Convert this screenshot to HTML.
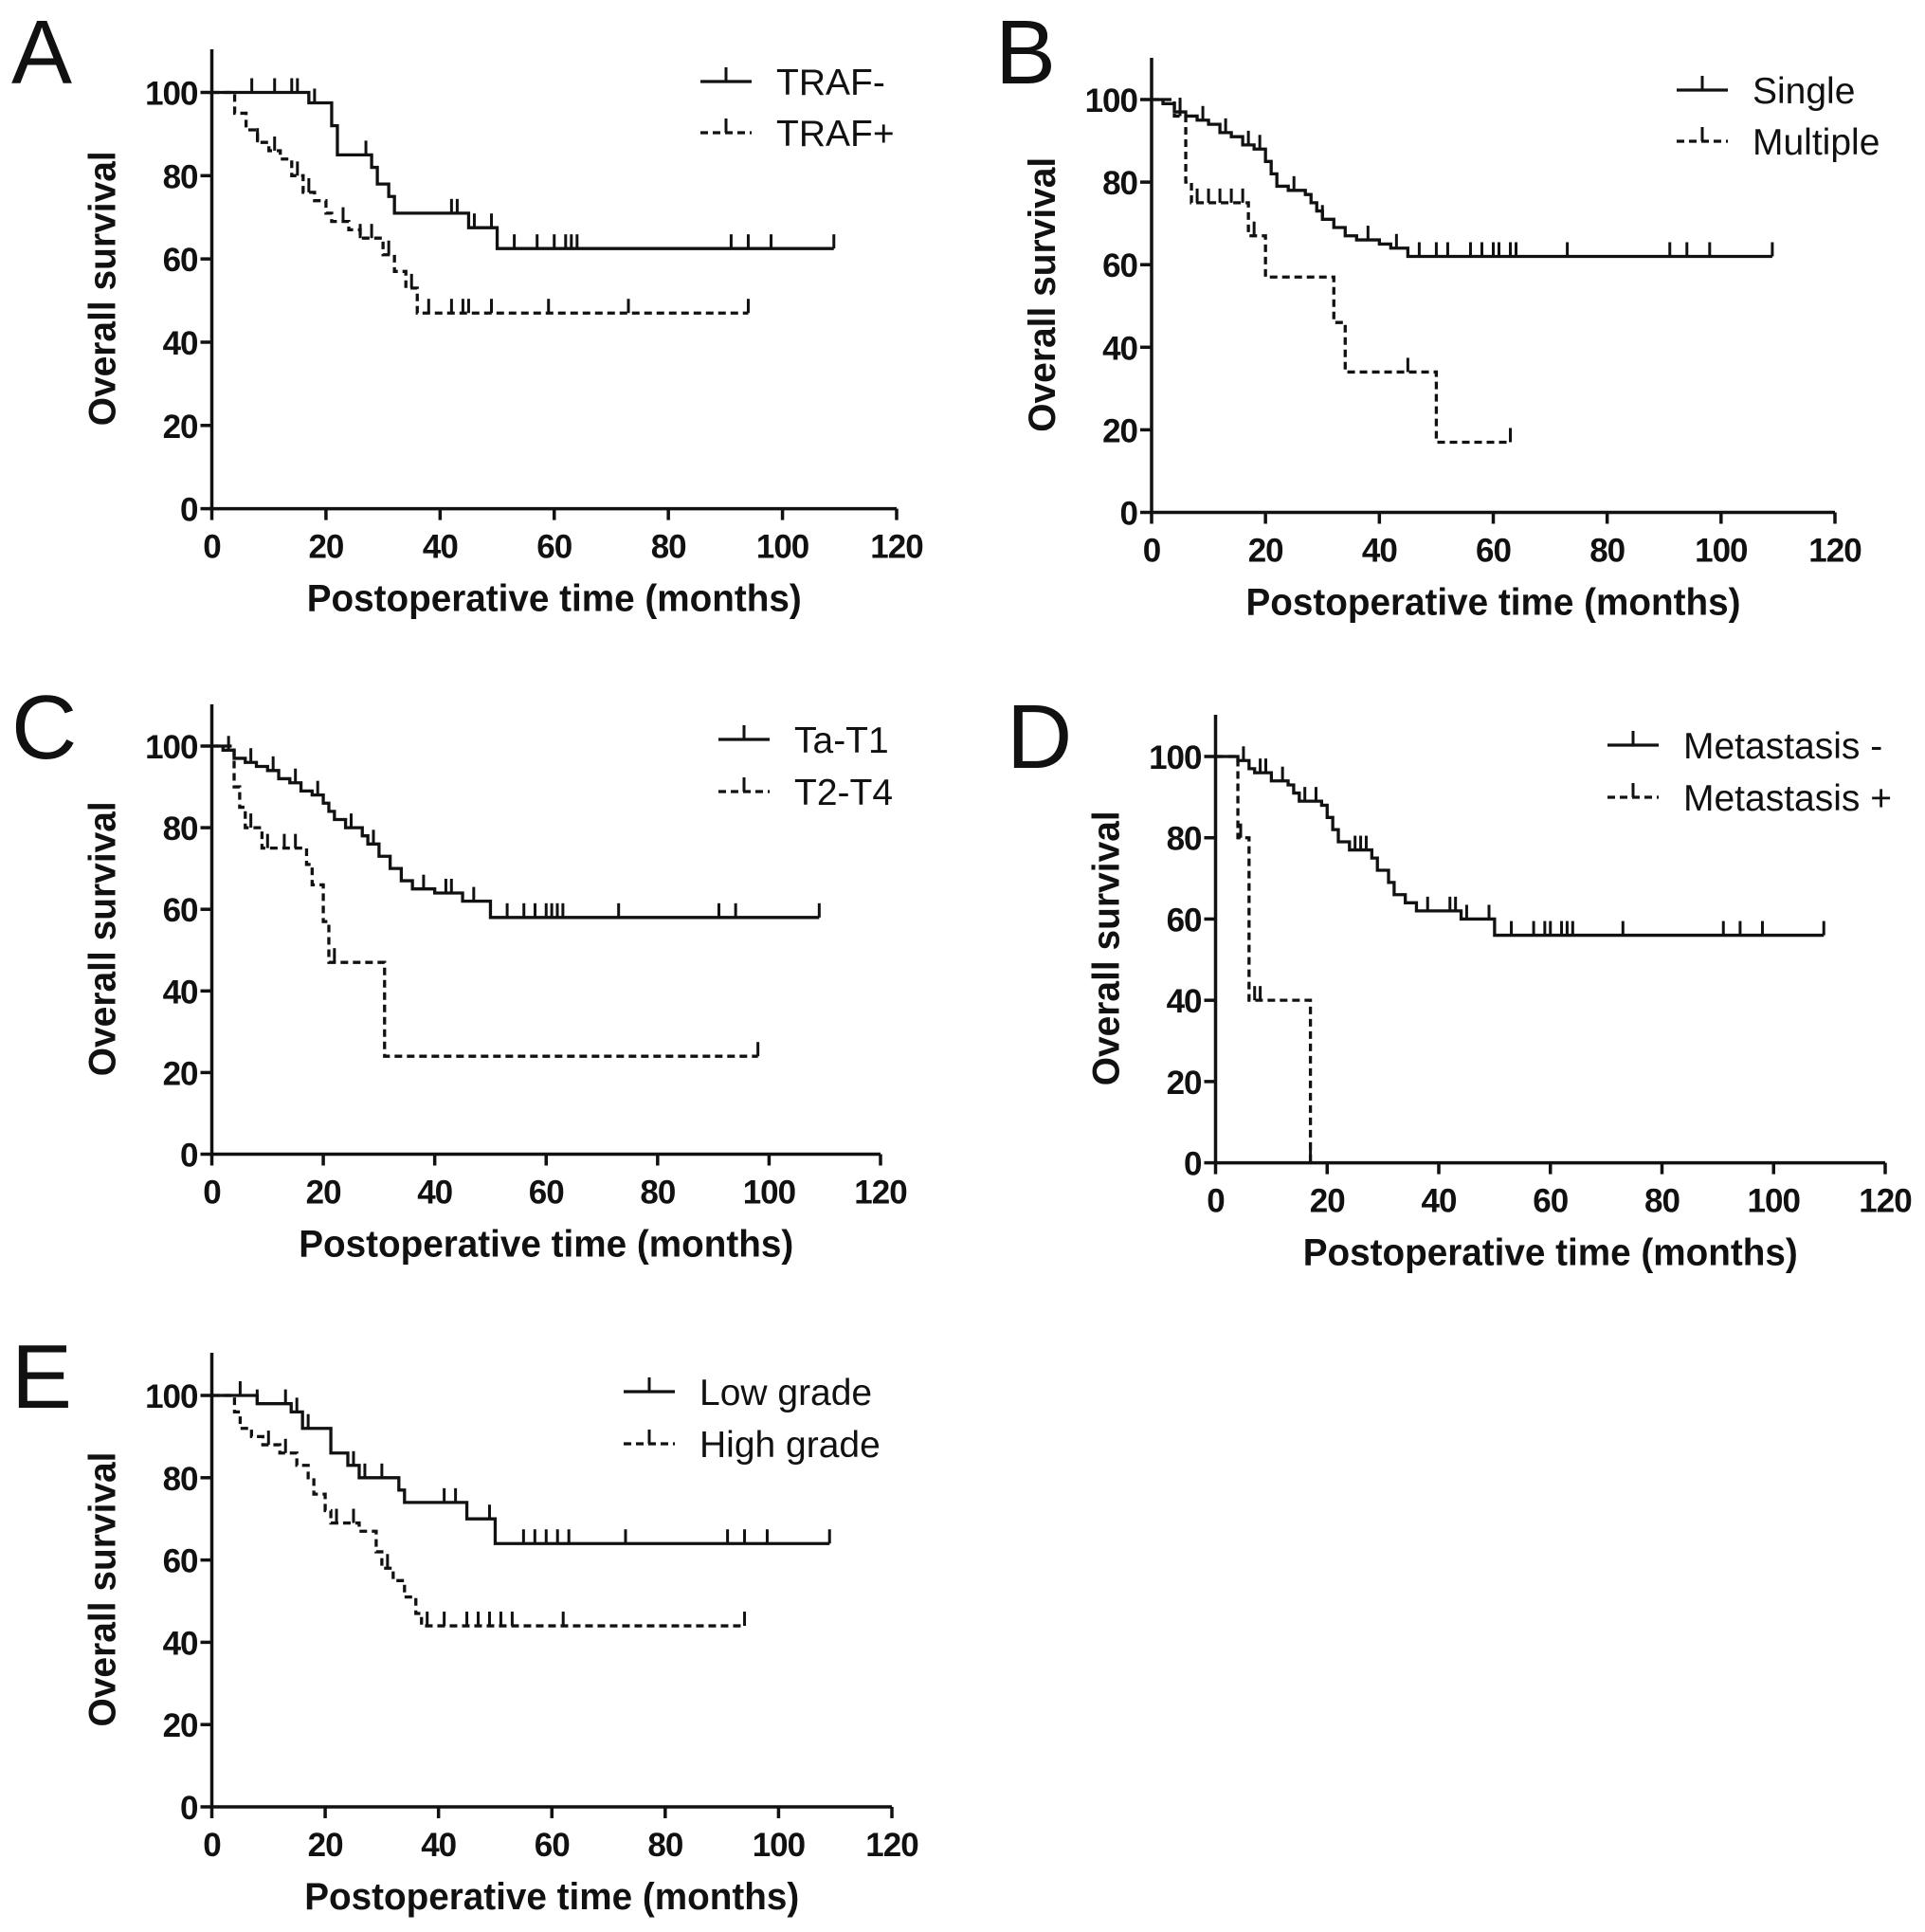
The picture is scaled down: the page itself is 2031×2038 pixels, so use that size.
<!DOCTYPE html>
<html><head><meta charset="utf-8">
<style>
html,body{margin:0;padding:0;background:#fff;}
svg{display:block;}
text{font-family:"Liberation Sans",Arial,sans-serif;fill:#111;}
.tick{font-weight:bold;font-size:35px;letter-spacing:-1px;}
.atitle{font-weight:bold;font-size:40px;}
.leg{font-size:39px;}
.plabel{font-size:96px;}
</style></head>
<body>
<svg id="fig" width="2031" height="2038" viewBox="0 0 2031 2038" xmlns="http://www.w3.org/2000/svg"></svg>
<script>
// ---- data ----
const xTicks = [0,20,40,60,80,100,120];
const yTicks = [0,20,40,60,80,100];
const panelLabels = ["A","B","C","D","E"];
const legendNames = [["TRAF-","TRAF+"],["Single","Multiple"],["Ta-T1","T2-T4"],["Metastasis -","Metastasis +"],["Low grade","High grade"]];

// A
const aSolidT = [0,17,21,22,28,29,31,32,45,50];
const aSolidS = [100,97.5,92,85,82,78,75,71,67.5,62.5];
const aSolidC = [7,11,14,15,18,27,42,43,46,49,53,57,60,62,63,64,91,94,98,109];
const aDashT = [0,4,6,8,10,12,14,16,18,20,21,24,26,30,32,34,36];
const aDashS = [100,95,91,88,86,84,80,76,74,71,69,67,65,61,57,53,47];
const aDashC = [8,11,15,17,23,26,28,31,35,38,42,44,45,49,59,73,94];
// B
const bSolidT = [0,2,4,6,8,10,12,14,16,18,20,21,22,24,27,28,29,30,32,34,36,40,42,45];
const bSolidS = [100,99,97,96,95,94,92,91,89,88,85,82,79,78,77,75,73,71,69,67,66,65,64,62];
const bSolidC = [5,9,13,17,19,25,30,38,43,47,50,52,56,58,60,61,63,64,73,91,94,98,109];
const bDashT = [0,4,6,7,17,20,32,34,50];
const bDashS = [100,96,80,75,67,57,46,34,17];
const bDashC = [5,8,10,12,14,16,18,45,63];
// C
const cSolidT = [0,2,4,6,8,10,12,14,16,18,20,21,22,24,27,28,30,32,34,36,40,45,50];
const cSolidS = [100,99,97,96,95,94,92,91,89,88,86,84,82,80,78,76,73,70,67,65,64,62,58];
const cSolidC = [3,7,11,15,19,25,29,38,42,43,47,53,56,58,60,61,62,63,73,91,94,109];
const cDashT = [0,4,5,6,9,17,18,20,21,31];
const cDashS = [100,90,85,80,75,71,66,57,47,24];
const cDashC = [7,10,13,15,22,98];
// D
const dSolidT = [0,4,6,7,10,13,14,15,19,20,21,22,24,28,29,31,32,34,36,44,50];
const dSolidS = [100,99,97,96,94,93,91,89,88,85,82,79,77,75,72,69,66,64,62,60,56];
const dSolidC = [5,8,9,12,16,18,25,26,27,38,42,43,45,49,53,57,59,60,62,63,64,73,91,94,98,109];
const dDashT = [0,4,6,17];
const dDashS = [100,80,40,0];
const dDashC = [4.5,7,8,17];
// E
const eSolidT = [0,8,14,16,21,24,26,33,34,45,50];
const eSolidS = [100,98,96,92,86,83,80,77,74,70,64];
const eSolidC = [5,8,13,15,17,25,27,30,41,43,49,55,57,59,61,63,73,91,94,98,109];
const eDashT = [0,4,5,7,9,12,15,17,18,20,21,26,29,30,32,34,36,37];
const eDashS = [100,96,92,90,88,86,83,80,76,72,69,67,62,58,55,51,47,44];
const eDashC = [10,13,22,25,31,38,41,45,47,49,51,53,62,94];

const series = [
 [[aSolidT,aSolidS,aSolidC],[aDashT,aDashS,aDashC]],
 [[bSolidT,bSolidS,bSolidC],[bDashT,bDashS,bDashC]],
 [[cSolidT,cSolidS,cSolidC],[cDashT,cDashS,cDashC]],
 [[dSolidT,dSolidS,dSolidC],[dDashT,dDashS,dDashC]],
 [[eSolidT,eSolidS,eSolidC],[eDashT,eDashS,eDashC]]
];
// ---- layout (pixels) ----
const layout = [
 {x0:223.5,x1:946,y0:536.6,y1:97.5,top:52,lx:819,ly:[86,140],pl:[12,88]},
 {x0:1215,x1:1936,y0:540.5,y1:105,top:61,lx:1849,ly:[95,149],pl:[1050,88]},
 {x0:223.5,x1:929,y0:1217.5,y1:787,top:743,lx:838,ly:[780,835],pl:[12,800]},
 {x0:1282.5,x1:1989,y0:1226.6,y1:798,top:754,lx:1776,ly:[786,841],pl:[1062,810]},
 {x0:223.5,x1:941,y0:1906,y1:1472,top:1427,lx:738,ly:[1468,1523],pl:[12,1485]}
];
const NS="http://www.w3.org/2000/svg";
const svg=document.getElementById('fig');
function mk(tag,attrs,parent){const e=document.createElementNS(NS,tag);for(const k in attrs)e.setAttribute(k,attrs[k]);(parent||svg).appendChild(e);return e;}
function surviveAt(T,S,t){let v=S[0];for(let i=0;i<T.length;i++){if(T[i]<=t)v=S[i];}return v;}

layout.forEach((L,p)=>{
  const g=mk('g',{});
  
  
  const xs=t=>L.x0+(L.x1-L.x0)*t/120;
  const ys=v=>L.y0+(L.y1-L.y0)*v/100;
  const lab=mk('text',{x:L.pl[0],y:L.pl[1],class:'plabel'},g);lab.textContent=panelLabels[p];
  
  
  const ax=mk('path',{d:`M${L.x0},${L.top}V${L.y0}H${L.x1}`,stroke:'#111','stroke-width':3.5,fill:'none'},g);
  
  
  yTicks.forEach(v=>{
    mk('line',{x1:L.x0-12,x2:L.x0,y1:ys(v),y2:ys(v),stroke:'#111','stroke-width':3.5},g);
    const t=mk('text',{x:L.x0-15,y:ys(v)+13,class:'tick','text-anchor':'end'},g);t.textContent=v;
    
    
  });
  xTicks.forEach(v=>{
    mk('line',{x1:xs(v),x2:xs(v),y1:L.y0,y2:L.y0+12,stroke:'#111','stroke-width':3.5},g);
    const t=mk('text',{x:xs(v),y:L.y0+52,class:'tick','text-anchor':'middle'},g);t.textContent=v;
    
    
  });
  const xt=mk('text',{x:(L.x0+L.x1)/2,y:L.y0+108,class:'atitle','text-anchor':'middle',textLength:522,lengthAdjust:'spacingAndGlyphs'},g);xt.textContent='Postoperative time (months)';
  
  
  const cy=(L.top+L.y0)/2+10, cx=L.x0-102;
  const yt=mk('text',{x:cx,y:cy,class:'atitle','text-anchor':'middle',textLength:290,lengthAdjust:'spacingAndGlyphs',transform:`rotate(-90 ${cx} ${cy})`},g);yt.textContent='Overall survival';
  
  
  series[p].forEach((s,k)=>{
    const [T,S,C]=s;
    const end=Math.max(T[T.length-1],C[C.length-1]);
    let d=`M${xs(T[0])},${ys(S[0])}`;
    for(let i=1;i<T.length;i++){d+=`H${xs(T[i])}V${ys(S[i])}`;}
    d+=`H${xs(end)}`;
    const attrs={d:d,stroke:'#111','stroke-width':3.3,fill:'none'};
    if(k===1)attrs['stroke-dasharray']='8 5';
    const ln=mk('path',attrs,g);
    
    
    C.forEach(c=>{
      const v=surviveAt(T,S,c);
      const tk=mk('line',{x1:xs(c),x2:xs(c),y1:ys(v),y2:ys(v)-15,stroke:'#111','stroke-width':3},g);
      
      
    });
    const ly=L.ly[k], lx=L.lx;
    const la={x1:lx-80,x2:lx-26,y1:ly,y2:ly,stroke:'#111','stroke-width':3.3};
    if(k===1)la['stroke-dasharray']='8 5';
    const ls=mk('line',la,g);
    
    
    mk('line',{x1:lx-53,x2:lx-53,y1:ly,y2:ly-15,stroke:'#111','stroke-width':3},g);
    const lt=mk('text',{x:lx,y:ly+14,class:'leg'},g);lt.textContent=legendNames[p][k];
    
    
  });
});
</script>
</body></html>
